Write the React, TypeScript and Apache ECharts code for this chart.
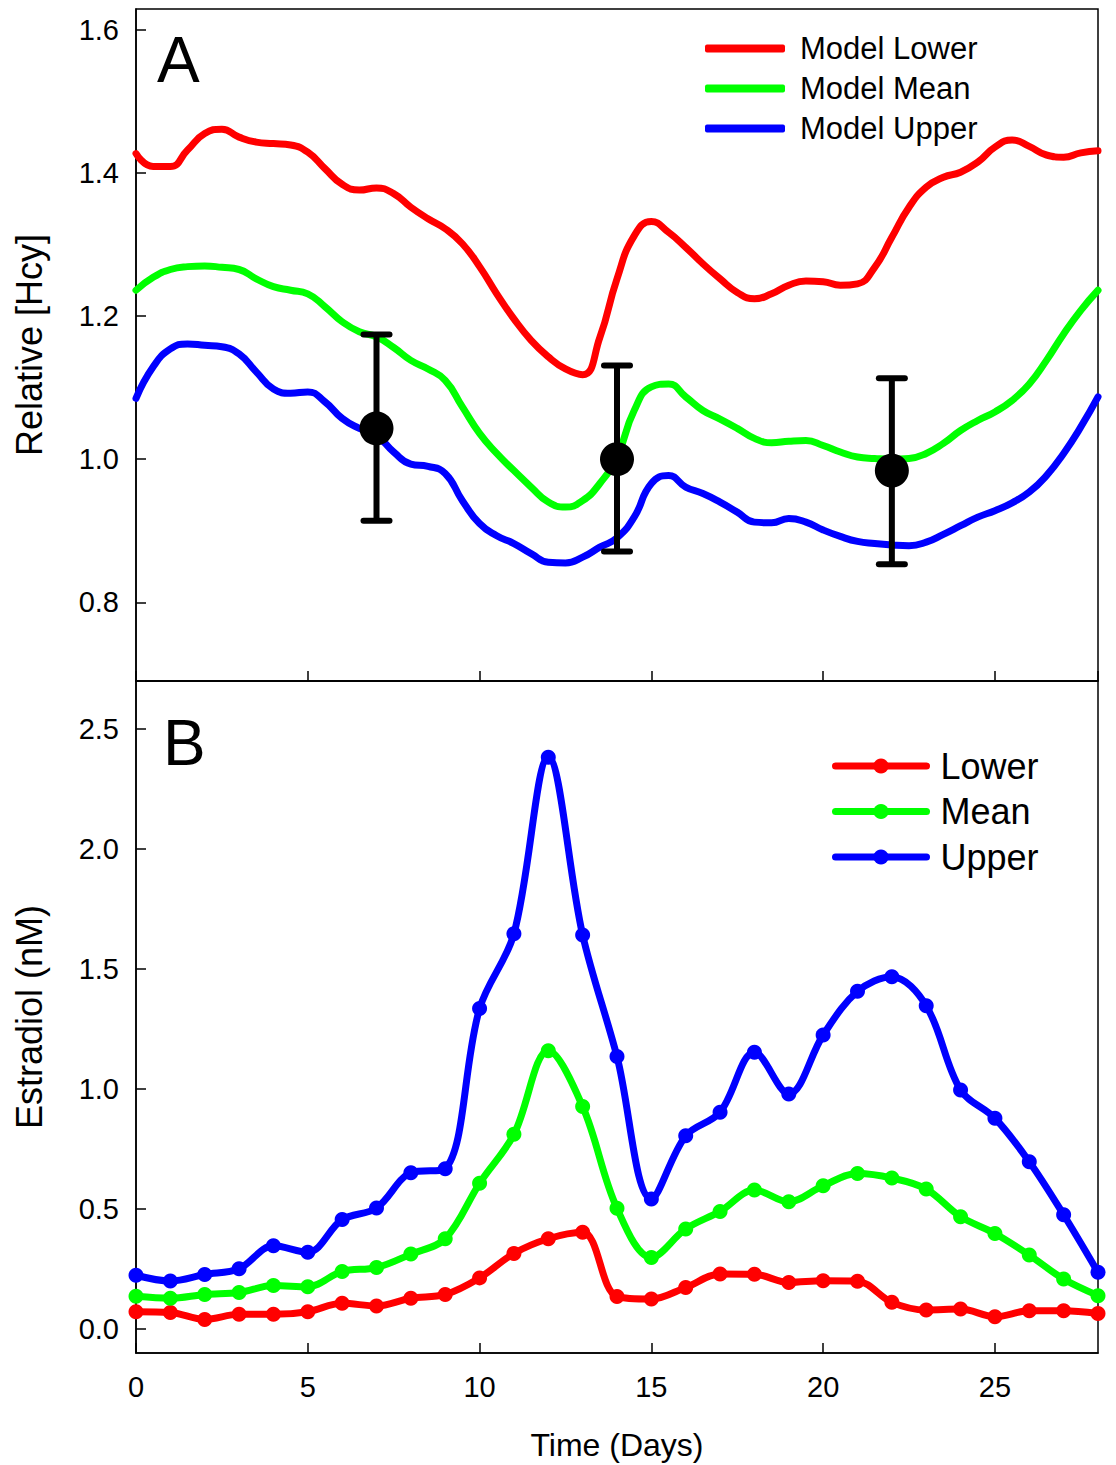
import React, { useEffect, useRef } from "react";
import * as echarts from "echarts";

// ---------- Panel A: model curves (every half day from 0 to 28) ----------
const modelDays = [
  0, 0.5, 1, 1.5, 2, 2.5, 3, 3.5, 4, 4.5, 5, 5.5, 6, 6.5, 7, 7.5, 8, 8.5, 9, 9.5,
  10, 10.5, 11, 11.5, 12, 12.5, 13, 13.5, 14, 14.5, 15, 15.5, 16, 16.5, 17, 17.5,
  18, 18.5, 19, 19.5, 20, 20.5, 21, 21.5, 22, 22.5, 23, 23.5, 24, 24.5, 25, 25.5,
  26, 26.5, 27, 27.5, 28,
];
const modelLower = [
  1.427, 1.409, 1.409, 1.432, 1.455, 1.461, 1.45, 1.443, 1.441, 1.439, 1.429, 1.406,
  1.384, 1.376, 1.379, 1.371, 1.352, 1.336, 1.322, 1.301, 1.269, 1.231, 1.196,
  1.166, 1.143, 1.126, 1.118, 1.17, 1.252, 1.312, 1.332, 1.317, 1.296, 1.273, 1.252,
  1.233, 1.224, 1.231, 1.243, 1.249, 1.248, 1.243, 1.245, 1.268, 1.31, 1.352, 1.38,
  1.394, 1.401, 1.415, 1.436, 1.446, 1.437, 1.425, 1.422, 1.428, 1.431,
];
const modelMean = [
  1.236, 1.254, 1.265, 1.269, 1.27, 1.268, 1.265, 1.252, 1.241, 1.236, 1.231, 1.213,
  1.192, 1.178, 1.171, 1.156, 1.138, 1.126, 1.11, 1.073, 1.036, 1.008, 0.984, 0.961,
  0.94, 0.933, 0.942, 0.966, 1.003, 1.068, 1.101, 1.105, 1.087, 1.068, 1.056, 1.043,
  1.029, 1.023, 1.025, 1.026, 1.019, 1.01, 1.003, 1.001, 1.0, 1.001, 1.008, 1.022,
  1.04, 1.054, 1.066, 1.082, 1.105, 1.138, 1.175, 1.208, 1.236,
];
const modelUpper = [
  1.085, 1.129, 1.154, 1.161, 1.159, 1.157, 1.147, 1.122, 1.098, 1.092, 1.094, 1.08,
  1.057, 1.043, 1.033, 1.01, 0.993, 0.99, 0.98, 0.942, 0.91, 0.893, 0.882, 0.868,
  0.856, 0.855, 0.863, 0.877, 0.89, 0.919, 0.966, 0.977, 0.961, 0.952, 0.94, 0.926,
  0.912, 0.911, 0.917, 0.912, 0.901, 0.892, 0.885, 0.882, 0.88, 0.879, 0.884, 0.895,
  0.907, 0.919, 0.928, 0.939, 0.954, 0.977, 1.008, 1.045, 1.087,
];

// Measured Hcy (mean with error bars)
const hcyDays = [7, 14, 22];
const hcyMean = [1.043, 1.0, 0.984];
const hcyLow = [0.914, 0.871, 0.853];
const hcyHigh = [1.174, 1.131, 1.113];

// ---------- Panel B: estradiol ----------
const days = [
  0, 1, 2, 3, 4, 5, 6, 7, 8, 9, 10, 11, 12, 13, 14, 15, 16, 17, 18, 19, 20, 21, 22,
  23, 24, 25, 26, 27, 28,
];
const e2Lower = [
  0.072, 0.069, 0.04, 0.061, 0.061, 0.072, 0.107, 0.096, 0.128, 0.144, 0.213, 0.315,
  0.376, 0.403, 0.135, 0.125, 0.173, 0.229, 0.228, 0.194, 0.201, 0.199, 0.111,
  0.079, 0.083, 0.051, 0.076, 0.076, 0.065,
];
const e2Mean = [
  0.136, 0.128, 0.144, 0.152, 0.181, 0.176, 0.24, 0.256, 0.312, 0.376, 0.607, 0.811,
  1.159, 0.927, 0.503, 0.298, 0.417, 0.49, 0.579, 0.53, 0.597, 0.648, 0.629, 0.583,
  0.468, 0.398, 0.308, 0.208, 0.139,
];
const e2Upper = [
  0.224, 0.2, 0.227, 0.251, 0.347, 0.32, 0.456, 0.504, 0.651, 0.668, 1.335, 1.647,
  2.382, 1.642, 1.135, 0.542, 0.805, 0.903, 1.153, 0.979, 1.225, 1.407, 1.468, 1.347,
  0.996, 0.878, 0.697, 0.476, 0.236,
];

// ---------- Tick values ----------
const hcyTicks = [0.8, 1.0, 1.2, 1.4, 1.6];
const e2Ticks = [0, 0.5, 1.0, 1.5, 2.0, 2.5];

const FONT = "'Liberation Sans', Arial, Helvetica, sans-serif";
const RED = "#ff0000";
const GREEN = "#00ff00";
const BLUE = "#0000ff";

export default function App() {
  const ref = useRef<HTMLDivElement>(null);

  useEffect(() => {
    if (!ref.current) return;
    const chart = echarts.init(ref.current, undefined, { renderer: "svg" });

    const pair = (xs: number[], ys: number[]) => xs.map((x, i) => [x, ys[i]]);

    const axisLine = { show: true, onZero: false, lineStyle: { color: "#000", width: 1.5 } };
    const axisTick = {
      show: true,
      inside: true,
      length: 10,
      lineStyle: { color: "#000", width: 1.5 },
    };
    const gridBase = {
      left: 136,
      width: 962,
      height: 672,
      show: true,
      borderColor: "#000",
      borderWidth: 1.5,
      backgroundColor: "transparent",
    };

    const option: any = {
      animation: false,
      backgroundColor: "#fff",
      textStyle: { fontFamily: FONT },
      grid: [
        { ...gridBase, top: 9 },
        { ...gridBase, top: 681 },
      ],
      xAxis: [
        {
          type: "value",
          gridIndex: 0,
          min: 0,
          max: 28,
          interval: 5,
          axisLine,
          axisTick,
          axisLabel: { show: false },
          splitLine: { show: false },
        },
        {
          type: "value",
          gridIndex: 1,
          min: 0,
          max: 28,
          interval: 5,
          axisLine,
          axisTick,
          axisLabel: {
            show: true,
            showMaxLabel: false,
            margin: 19,
            fontSize: 29,
            color: "#000",
            fontFamily: FONT,
          },
          splitLine: { show: false },
          name: "Time (Days)",
          nameLocation: "middle",
          nameGap: 76,
          nameTextStyle: { fontSize: 32, color: "#000", fontFamily: FONT },
        },
      ],
      yAxis: [
        {
          type: "value",
          gridIndex: 0,
          min: 0.69,
          max: 1.629,
          axisLine,
          axisTick: { ...axisTick, customValues: hcyTicks },
          axisLabel: {
            show: true,
            customValues: hcyTicks,
            margin: 17,
            fontSize: 29,
            color: "#000",
            fontFamily: FONT,
            formatter: (v: number) => v.toFixed(1),
          },
          splitLine: { show: false },
          name: "Relative [Hcy]",
          nameLocation: "middle",
          nameGap: 89,
          nameTextStyle: { fontSize: 36, color: "#000", fontFamily: FONT },
        },
        {
          type: "value",
          gridIndex: 1,
          min: -0.1,
          max: 2.7,
          axisLine,
          axisTick: { ...axisTick, customValues: e2Ticks },
          axisLabel: {
            show: true,
            customValues: e2Ticks,
            margin: 17,
            fontSize: 29,
            color: "#000",
            fontFamily: FONT,
            formatter: (v: number) => v.toFixed(1),
          },
          splitLine: { show: false },
          name: "Estradiol (nM)",
          nameLocation: "middle",
          nameGap: 89,
          nameTextStyle: { fontSize: 36, color: "#000", fontFamily: FONT },
        },
      ],
      legend: [
        {
          data: ["Model Lower", "Model Mean", "Model Upper"],
          orient: "vertical",
          left: 705,
          top: 33,
          padding: 0,
          itemWidth: 80,
          itemHeight: 8,
          itemGap: 9,
          icon: "roundRect",
          selectedMode: false,
          textStyle: {
            fontSize: 31,
            color: "#000",
            fontFamily: FONT,
            padding: [0, 0, 0, 10],
          },
        },
        {
          data: ["Lower", "Mean", "Upper"],
          orient: "vertical",
          left: 832,
          top: 748,
          padding: 0,
          itemWidth: 91,
          itemHeight: 19,
          itemGap: 9.5,
          selectedMode: false,
          lineStyle: { width: 7 },
          textStyle: {
            fontSize: 36,
            color: "#000",
            fontFamily: FONT,
            padding: [0, 0, 0, 9],
          },
        },
      ],
      graphic: [
        {
          type: "text",
          left: 157,
          top: 28,
          style: { text: "A", fontSize: 64, fill: "#000", fontFamily: FONT },
        },
        {
          type: "text",
          left: 163,
          top: 711,
          style: { text: "B", fontSize: 64, fill: "#000", fontFamily: FONT },
        },
      ],
      series: [
        {
          name: "Model Lower",
          type: "line",
          xAxisIndex: 0,
          yAxisIndex: 0,
          data: pair(modelDays, modelLower),
          smooth: 0.5,
          symbol: "none",
          lineStyle: { color: RED, width: 7, cap: "round", join: "round" },
          itemStyle: { color: RED },
          z: 2,
        },
        {
          name: "Model Mean",
          type: "line",
          xAxisIndex: 0,
          yAxisIndex: 0,
          data: pair(modelDays, modelMean),
          smooth: 0.5,
          symbol: "none",
          lineStyle: { color: GREEN, width: 7, cap: "round", join: "round" },
          itemStyle: { color: GREEN },
          z: 2,
        },
        {
          name: "Model Upper",
          type: "line",
          xAxisIndex: 0,
          yAxisIndex: 0,
          data: pair(modelDays, modelUpper),
          smooth: 0.5,
          symbol: "none",
          lineStyle: { color: BLUE, width: 7, cap: "round", join: "round" },
          itemStyle: { color: BLUE },
          z: 2,
        },
        {
          name: "Measured Hcy",
          type: "custom",
          xAxisIndex: 0,
          yAxisIndex: 0,
          z: 5,
          data: hcyDays.map((d, i) => [d, hcyMean[i], hcyLow[i], hcyHigh[i]]),
          encode: { x: 0, y: [1, 2, 3] },
          renderItem: (_params: any, api: any) => {
            const x = api.value(0);
            const pM = api.coord([x, api.value(1)]);
            const pLo = api.coord([x, api.value(2)]);
            const pHi = api.coord([x, api.value(3)]);
            const cap = 13;
            const st = { stroke: "#000", lineWidth: 6, lineCap: "round" };
            return {
              type: "group",
              children: [
                {
                  type: "line",
                  shape: { x1: pHi[0], y1: pHi[1], x2: pLo[0], y2: pLo[1] },
                  style: { stroke: "#000", lineWidth: 6 },
                },
                {
                  type: "line",
                  shape: { x1: pHi[0] - cap, y1: pHi[1], x2: pHi[0] + cap, y2: pHi[1] },
                  style: st,
                },
                {
                  type: "line",
                  shape: { x1: pLo[0] - cap, y1: pLo[1], x2: pLo[0] + cap, y2: pLo[1] },
                  style: st,
                },
                {
                  type: "circle",
                  shape: { cx: pM[0], cy: pM[1], r: 17 },
                  style: { fill: "#000" },
                },
              ],
            };
          },
        },
        {
          name: "Lower",
          type: "line",
          xAxisIndex: 1,
          yAxisIndex: 1,
          data: pair(days, e2Lower),
          smooth: 0.35,
          symbol: "circle",
          symbolSize: 15,
          showAllSymbol: true,
          lineStyle: { color: RED, width: 7, cap: "round", join: "round" },
          itemStyle: { color: RED },
          z: 2,
        },
        {
          name: "Mean",
          type: "line",
          xAxisIndex: 1,
          yAxisIndex: 1,
          data: pair(days, e2Mean),
          smooth: 0.35,
          symbol: "circle",
          symbolSize: 15,
          showAllSymbol: true,
          lineStyle: { color: GREEN, width: 7, cap: "round", join: "round" },
          itemStyle: { color: GREEN },
          z: 2,
        },
        {
          name: "Upper",
          type: "line",
          xAxisIndex: 1,
          yAxisIndex: 1,
          data: pair(days, e2Upper),
          smooth: 0.35,
          symbol: "circle",
          symbolSize: 15,
          showAllSymbol: true,
          lineStyle: { color: BLUE, width: 7, cap: "round", join: "round" },
          itemStyle: { color: BLUE },
          z: 2,
        },
      ],
    };

    chart.setOption(option);
    return () => {
      chart.dispose();
    };
  }, []);

  return (
    <div
      ref={ref}
      style={{ position: "absolute", left: 0, top: 0, width: 1116, height: 1465, background: "#fff" }}
    />
  );
}
